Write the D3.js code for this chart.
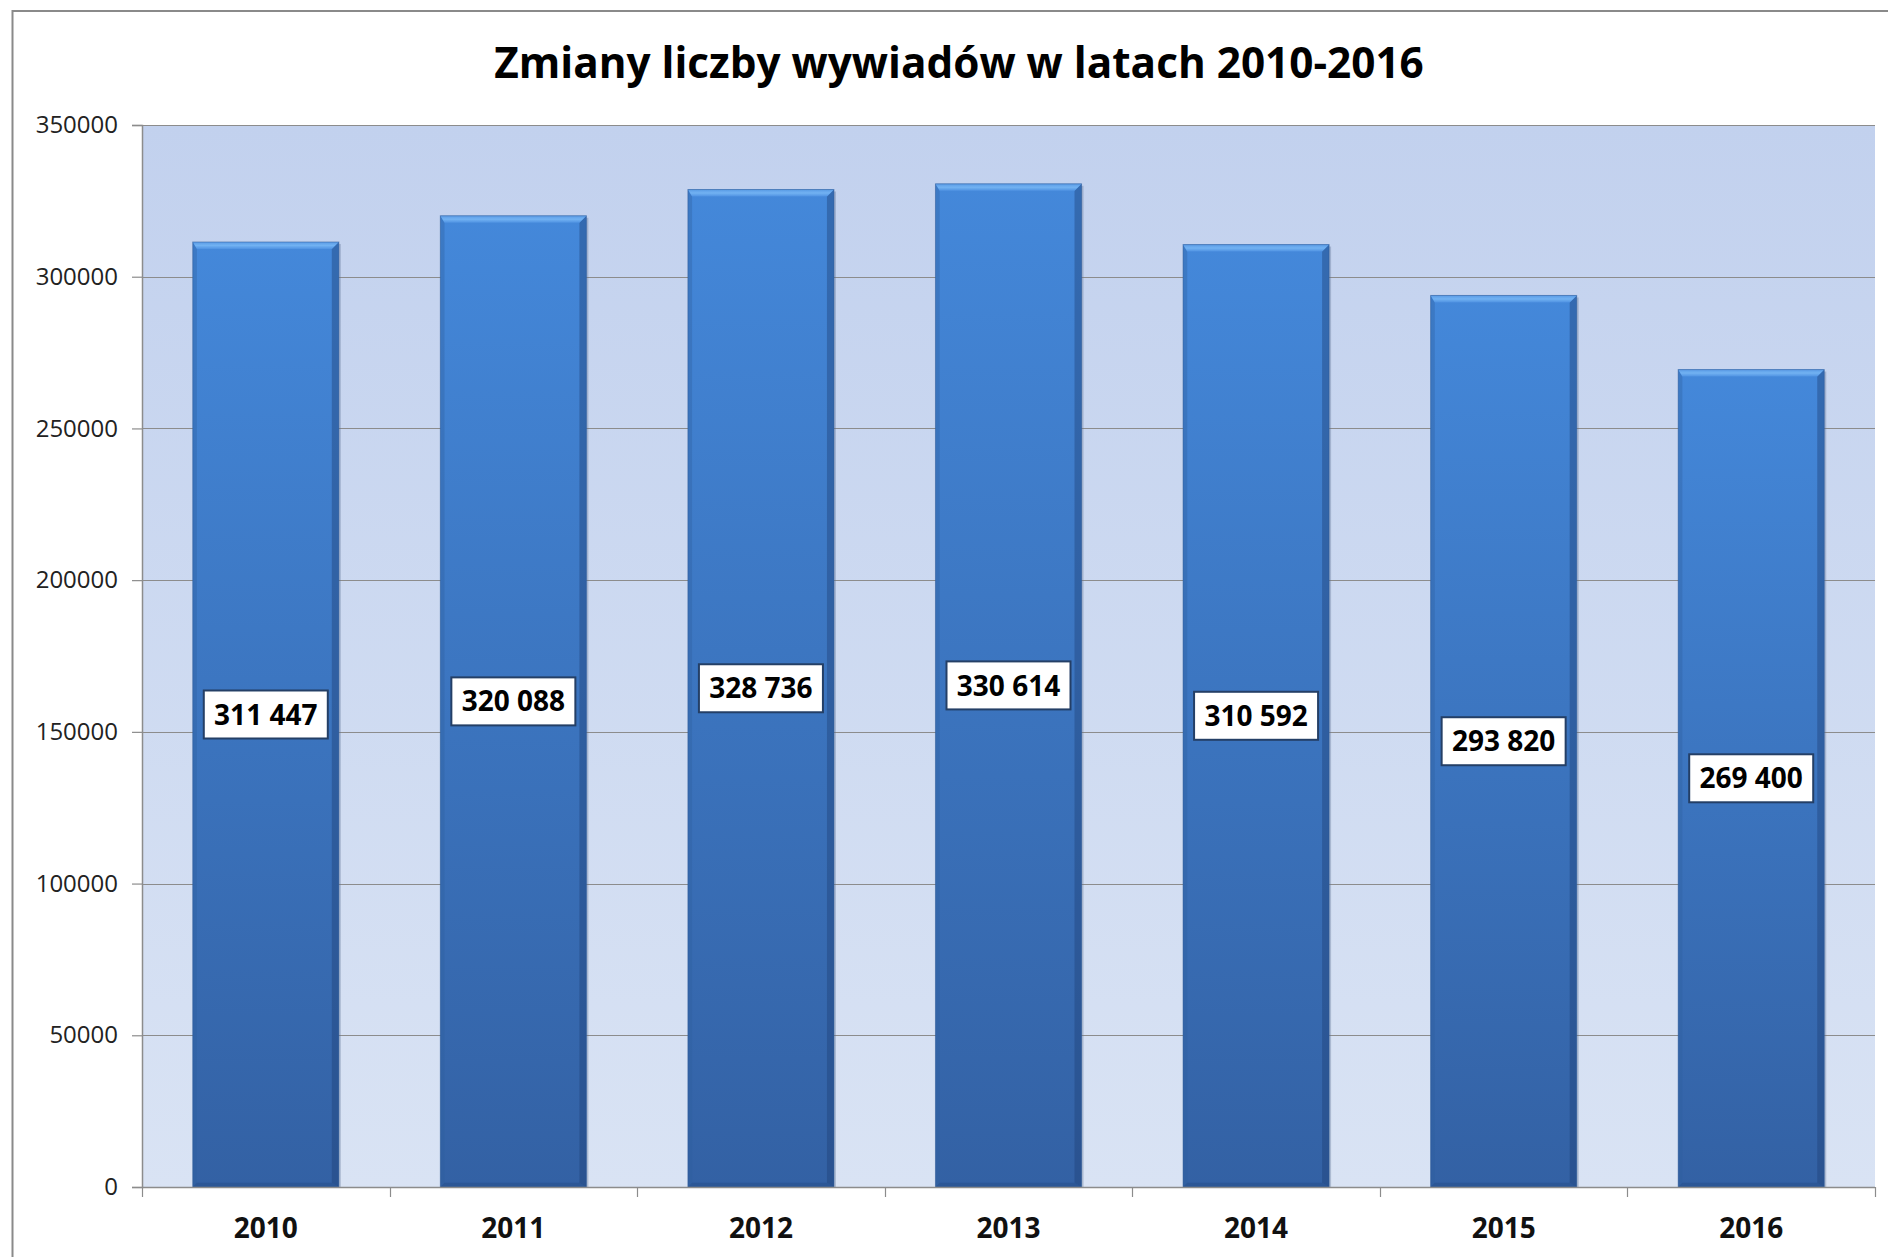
<!DOCTYPE html>
<html><head><meta charset="utf-8">
<script src="https://cdn.jsdelivr.net/npm/d3@7"></script>
<style>
html,body{margin:0;padding:0;background:#fff;}
svg{display:block;}
</style></head>
<body>
<svg id="chart" width="1888" height="1257"></svg>
<script>
const title = "Zmiany liczby wywiadów w latach 2010-2016";
const years = ["2010","2011","2012","2013","2014","2015","2016"];
const interviews = [311447, 320088, 328736, 330614, 310592, 293820, 269400];
const yTicks = [0, 50000, 100000, 150000, 200000, 250000, 300000, 350000];

const W = 1888, H = 1257;
const m = {left:142, top:125, right:1875, bottom:1187};
const svg = d3.select("#chart");
const defs = svg.append("defs");

const bg = defs.append("linearGradient").attr("id","bg").attr("x1",0).attr("y1",0).attr("x2",0).attr("y2",1);
bg.append("stop").attr("offset","0%").attr("stop-color","#c2d1ee");
bg.append("stop").attr("offset","100%").attr("stop-color","#d9e3f4");

const bar = defs.append("linearGradient").attr("id","bar").attr("x1",0).attr("y1",0).attr("x2",0).attr("y2",1);
bar.append("stop").attr("offset","0%").attr("stop-color","#4488da");
bar.append("stop").attr("offset","100%").attr("stop-color","#3361a4");

const topBevel = defs.append("linearGradient").attr("id","topb").attr("x1",0).attr("y1",0).attr("x2",0).attr("y2",1);
topBevel.append("stop").attr("offset","0%").attr("stop-color","#5a9be6");
topBevel.append("stop").attr("offset","50%").attr("stop-color","#72b2f2");
topBevel.append("stop").attr("offset","100%").attr("stop-color","#4f92e2");

// outer frame
svg.append("rect").attr("x",12.5).attr("y",11).attr("width",1920).attr("height",1320)
  .attr("fill","#fff").attr("stroke","#8a8a8a").attr("stroke-width",2);

const x = d3.scaleBand().domain(years).range([m.left, m.right]).paddingInner(0.41).paddingOuter(0.205);
const y = d3.scaleLinear().domain([0,350000]).range([m.bottom, m.top]);

// plot area
svg.append("rect").attr("x",m.left).attr("y",m.top).attr("width",m.right-m.left).attr("height",m.bottom-m.top)
  .attr("fill","url(#bg)");

// gridlines
svg.append("g").selectAll("line").data(yTicks.filter(d=>d>0)).join("line")
  .attr("x1",m.left).attr("x2",m.right).attr("y1",d=>Math.round(y(d))+0.5).attr("y2",d=>Math.round(y(d))+0.5)
  .attr("stroke","#8c8c8c").attr("stroke-width",1.2);

// y axis
const yAxis = svg.append("g").attr("transform",`translate(${m.left},0)`)
  .call(d3.axisLeft(y).tickValues(yTicks).tickFormat(d3.format("d")).tickSize(10).tickPadding(14));
yAxis.select(".domain").attr("stroke","#8c8c8c").attr("stroke-width",1.5);
yAxis.selectAll(".tick line").attr("stroke","#8c8c8c").attr("stroke-width",1.2);
yAxis.selectAll("text").attr("font-family","'Open Sans', sans-serif").attr("font-size",24).attr("fill","#222");

// bars
const bw = x.bandwidth();
const bev = 7;
const bars = svg.append("g").selectAll("g").data(years).join("g");
bars.each(function(c,i){
  const g = d3.select(this);
  const x0 = x(c), x1 = x(c)+bw, y0 = y(interviews[i]), y1 = y(0);
  // shadow
  g.append("rect").attr("x",x0+2).attr("y",y0+2).attr("width",bw).attr("height",y1-y0-2).attr("fill","#5b6f93").attr("opacity",0.35);
  g.append("rect").attr("x",x0).attr("y",y0).attr("width",bw).attr("height",y1-y0).attr("fill","url(#bar)");
  // left bevel
  g.append("path").attr("d",`M${x0},${y0}L${x0+bev*0.6},${y0+bev}L${x0+bev*0.6},${y1-bev*0.6}L${x0},${y1}Z`).attr("fill","#2f5e9e").attr("opacity",0.35);
  // right bevel
  g.append("path").attr("d",`M${x1},${y0}L${x1-bev},${y0+bev}L${x1-bev},${y1-bev*0.6}L${x1},${y1}Z`).attr("fill","#1d3f73").attr("opacity",0.4);
  // bottom bevel
  g.append("path").attr("d",`M${x0},${y1}L${x0+bev*0.6},${y1-bev*0.6}L${x1-bev},${y1-bev*0.6}L${x1},${y1}Z`).attr("fill","#264e88").attr("opacity",0.5);
  // top bevel
  g.append("path").attr("d",`M${x0},${y0}L${x1},${y0}L${x1-bev},${y0+bev}L${x0+bev*0.6},${y0+bev}Z`).attr("fill","url(#topb)");
  g.append("rect").attr("x",x0).attr("y",y0).attr("width",bw).attr("height",y1-y0).attr("fill","none").attr("stroke","#2e5a96").attr("stroke-width",1).attr("opacity",0.5);
});

// x axis (bottom line + boundary ticks)
const xb = svg.append("g");
xb.append("line").attr("x1",m.left).attr("x2",m.right).attr("y1",m.bottom+0.5).attr("y2",m.bottom+0.5).attr("stroke","#8c8c8c").attr("stroke-width",1.5);
const bounds = years.map(c=>x(c)-x.step()*x.paddingInner()/2).concat([m.right]);
xb.selectAll("line.t").data(bounds).join("line").attr("class","t")
  .attr("x1",d=>Math.round(d)+0.5).attr("x2",d=>Math.round(d)+0.5).attr("y1",m.bottom).attr("y2",m.bottom+10)
  .attr("stroke","#8c8c8c").attr("stroke-width",1.2);
const xAxis = svg.append("g").attr("transform",`translate(0,${m.bottom})`)
  .call(d3.axisBottom(x).tickSize(0).tickPadding(31));
xAxis.select(".domain").remove();
xAxis.selectAll("text").attr("font-family","'Open Sans', sans-serif").attr("font-weight","bold").attr("font-size",28).attr("fill","#111");

// data labels
const fmt = d3.formatLocale({decimal:",", thousands:" ", grouping:[3], currency:["",""]}).format(",d");
const labels = svg.append("g").selectAll("g").data(years).join("g")
  .attr("transform",(c,i)=>`translate(${x(c)+bw/2},${y(interviews[i]/2)})`);
labels.append("rect").attr("x",-62).attr("y",-24).attr("width",124).attr("height",48)
  .attr("fill","#fff").attr("stroke","#243f66").attr("stroke-width",2);
labels.append("text").attr("text-anchor","middle").attr("dy","0.36em")
  .attr("font-family","'Open Sans', sans-serif").attr("font-weight","bold").attr("font-size",28).attr("fill","#000")
  .text((c,i)=>fmt(interviews[i]));

// title
const t = svg.append("text").attr("x",(m.left+m.right)/2 - 50).attr("y",78).attr("text-anchor","middle")
  .attr("font-family","'Open Sans', sans-serif").attr("font-weight","bold").attr("font-size",46).attr("fill","#000")
  .text(title);
const tw = t.node().getComputedTextLength();
t.attr("font-size", 46*930/tw);
t.attr("x", 494 + 465);
</script>
</body></html>
